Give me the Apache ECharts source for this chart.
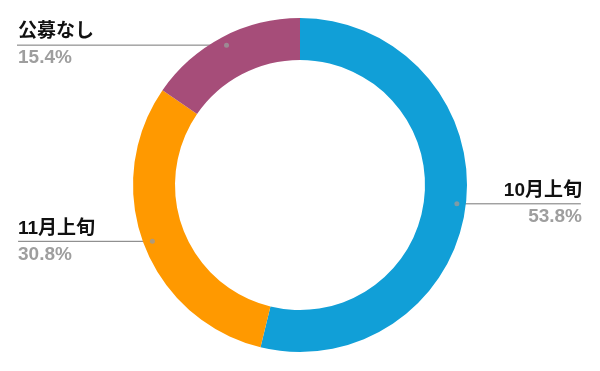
<!DOCTYPE html>
<html><head><meta charset="utf-8">
<script src="https://cdn.jsdelivr.net/npm/echarts@6/dist/echarts.min.js"></script>
<style>html,body{margin:0;padding:0;background:#fff}#c{width:600px;height:371px}</style>
</head><body><div id="c"></div>
<script>
const categories = ['10月上旬', '11月上旬', '公募なし'];
const values = [53.8, 30.8, 15.4];
const colors = ['#119fd7', '#ff9900', '#a64d79'];

const total = values.reduce((a, b) => a + b, 0);
let acc = 0;
const dotData = values.map(v => { const mid = acc + v / 2; acc += v; return [1, mid]; });

const pieData = categories.map((n, i) => ({ name: n, value: values[i], itemStyle: { color: colors[i] } }));

const chart = echarts.init(document.getElementById('c'), null, { renderer: 'canvas' });
const ff = '"Liberation Sans", Arial, "Noto Sans CJK JP", sans-serif';
chart.setOption({
  animation: false,
  polar: { center: [300, 185], radius: 158 },
  angleAxis: { type: 'value', min: 0, max: total, startAngle: 90, clockwise: true, show: false },
  radiusAxis: { type: 'value', min: 0, max: 1, show: false },
  series: [
    {
      type: 'pie', center: [300, 185], radius: [125, 167], startAngle: 90, clockwise: true,
      label: { show: false }, labelLine: { show: false }, silent: true,
      data: pieData
    },
    {
      type: 'pie', center: [300, 185], radius: [0, 158], startAngle: 90, clockwise: true,
      silent: true, avoidLabelOverlap: true,
      itemStyle: { color: 'rgba(0,0,0,0)' },
      label: {
        show: true, position: 'outside', alignTo: 'edge', edgeDistance: 18,
        width: 84, distanceToLabelLine: -77,
        formatter: p => '{n|' + p.name + '}\n{p|' + p.value.toFixed(1) + '%}',
        rich: {
          n: { fontFamily: ff, fontSize: 19, fontWeight: 'bold', color: '#111', lineHeight: 26 },
          p: { fontFamily: ff, fontSize: 19, fontWeight: 'bold', color: '#9e9e9e', lineHeight: 26 }
        }
      },
      labelLine: { show: true, length: 0, length2: 5, smooth: false, lineStyle: { color: '#777', width: 1 } },
      data: categories.map((n, i) => ({ name: n, value: values[i] }))
    },
    {
      type: 'scatter', coordinateSystem: 'polar', symbol: 'circle', symbolSize: 5,
      itemStyle: { color: '#9a9a9a' }, silent: true, z: 5,
      data: dotData
    }
  ]
});
</script></body></html>
